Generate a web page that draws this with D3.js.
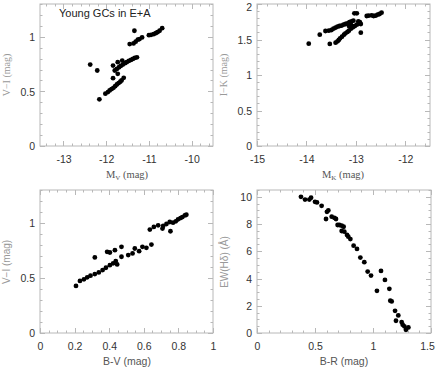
<!DOCTYPE html>
<html><head><meta charset="utf-8">
<script src="https://cdn.jsdelivr.net/npm/d3@7"></script>
<style>body{margin:0;background:#fff}svg{display:block}</style>
</head><body>
<svg id="c" width="436" height="370"></svg>
<script>
// Panel 1: M_V vs V-I
const p1MV = [-12.16,-12.02,-11.96,-11.92,-11.875,-11.83,-11.79,-11.75,-11.71,-11.67,-11.64,-11.59,
  -11.80,-11.75,-11.70,-11.66,-11.61,-11.56,-11.52,-11.47,-11.42,-11.375,-11.33,-11.28,
  -12.375,-12.21,-11.84,-11.84,-11.73,-11.73,-11.625,
  -11.34,-11.45,-11.36,-11.31,-11.26,-11.22,-11.16,-11.0,-10.95,-10.89,-10.84,-10.80,-10.75,-10.69];
const p1VI = [0.427,0.479,0.494,0.509,0.521,0.533,0.548,0.564,0.576,0.588,0.600,0.624,
  0.691,0.706,0.721,0.733,0.745,0.758,0.767,0.779,0.788,0.797,0.806,0.812,
  0.745,0.691,0.736,0.621,0.767,0.661,0.782,
  1.055,0.933,0.939,0.955,0.973,0.979,0.994,1.015,1.018,1.024,1.033,1.042,1.055,1.079];
// Panel 2: M_K vs I-K
const p2MK = [-13.953,-13.730,-13.527,-13.615,-13.547,-13.493,-13.453,-13.412,-13.372,-13.331,-13.291,-13.25,-13.21,-13.17,-13.13,-13.09,-13.05,-13.14,-13.10,
  -13.41,-13.37,-13.345,-13.318,-13.28,-13.24,-13.21,-13.17,-13.14,-13.10,-13.06,-13.02,-12.98,-12.94,-12.90,-12.95,-12.92,
  -13.03,-12.98,-12.90,-12.78,-12.74,-12.68,-12.64,-12.60,-12.56,-12.52,-12.48];
const p2IK = [1.441,1.568,1.437,1.620,1.624,1.634,1.653,1.667,1.681,1.690,1.695,1.709,1.718,1.728,1.746,1.756,1.765,1.690,1.709,
  1.455,1.474,1.493,1.516,1.540,1.568,1.587,1.606,1.624,1.653,1.671,1.690,1.709,1.728,1.718,1.756,1.746,
  1.869,1.869,1.596,1.831,1.836,1.840,1.831,1.836,1.850,1.859,1.878];
// Panel 3: B-V vs V-I
const p3BV = [0.208,0.231,0.254,0.273,0.292,0.317,0.317,0.340,0.362,0.381,0.388,0.404,0.404,0.423,0.438,0.446,0.433,0.471,0.471,0.510,0.535,0.548,0.573,0.592,0.615,0.644,
  0.635,0.658,0.683,0.708,0.712,0.731,0.75,0.754,0.769,0.785,0.798,0.812,0.823,0.837,0.846];
const p3VI = [0.428,0.473,0.488,0.506,0.521,0.536,0.687,0.551,0.572,0.593,0.738,0.732,0.617,0.633,0.654,0.623,0.753,0.783,0.693,0.708,0.723,0.768,0.744,0.783,0.774,0.804,
  0.940,0.964,0.979,0.949,0.973,0.991,1.009,0.925,1.003,1.015,1.033,1.045,1.054,1.069,1.075];
// Panel 4: B-R vs EW(Hdelta)
const p4BR = [0.379,0.414,0.451,0.466,0.50,0.517,0.557,0.603,0.615,0.595,0.644,0.667,0.681,0.695,0.71,0.730,0.747,0.730,0.753,0.776,0.787,0.805,0.833,0.862,0.891,0.925,0.954,0.983,1.034,1.069,1.103,1.141,1.149,1.161,1.190,1.198,1.218,1.247,1.256,1.27,1.284,1.305];
const p4EW = [10.0,9.80,9.80,9.93,9.63,9.59,9.34,8.90,9.00,8.37,8.54,8.46,8.37,7.93,7.93,7.88,7.80,7.49,7.44,7.20,7.07,6.90,6.41,6.17,5.54,5.20,4.51,4.22,3.10,4.56,3.90,3.24,2.37,2.32,1.63,0.90,1.29,0.80,0.61,0.49,0.24,0.41];

const svg = d3.select("#c");
const sans = "Helvetica, Arial, 'Liberation Sans', sans-serif";
const serif = "'Liberation Serif', 'DejaVu Serif', serif";

function panel(o){
  const x = d3.scaleLinear().domain(o.xd).range([o.x0,o.x1]);
  const y = d3.scaleLinear().domain(o.yd).range([o.y1,o.y0]);
  const g = svg.append("g");
  const frame = "#b8b8b8";
  g.append("rect").attr("x",o.x0).attr("y",o.y0).attr("width",o.x1-o.x0).attr("height",o.y1-o.y0)
    .attr("fill","none").attr("stroke",frame).attr("stroke-width",1);
  const eps = 1e-9;
  const xmin = d3.range(Math.ceil(o.xd[0]/o.xm - eps)*o.xm, o.xd[1]+eps, o.xm);
  const ymin = d3.range(Math.ceil(o.yd[0]/o.ym - eps)*o.ym, o.yd[1]+eps, o.ym);
  const isMaj = (v,s)=> Math.abs(v/s - Math.round(v/s)) < 1e-6;
  xmin.forEach(v=>{
    const L = isMaj(v,o.xM)?5:2.5, px = Math.round(x(v))+0.5;
    g.append("line").attr("x1",px).attr("x2",px).attr("y1",o.y1).attr("y2",o.y1-L).attr("stroke",frame);
    g.append("line").attr("x1",px).attr("x2",px).attr("y1",o.y0).attr("y2",o.y0+L).attr("stroke",frame);
  });
  ymin.forEach(v=>{
    const L = isMaj(v,o.yM)?5:2.5, py = Math.round(y(v))+0.5;
    g.append("line").attr("y1",py).attr("y2",py).attr("x1",o.x0).attr("x2",o.x0+L).attr("stroke",frame);
    g.append("line").attr("y1",py).attr("y2",py).attr("x1",o.x1).attr("x2",o.x1-L).attr("stroke",frame);
  });
  const ax = g.append("g").attr("transform",`translate(0,${o.y1})`)
    .call(d3.axisBottom(x).tickValues(o.xt).tickFormat(o.xf||(d=>d)).tickSize(0).tickPadding(10));
  const ay = g.append("g").attr("transform",`translate(${o.x0},0)`)
    .call(d3.axisLeft(y).tickValues(o.yt).tickFormat(o.yf||(d=>d)).tickSize(0).tickPadding(5));
  [ax,ay].forEach(a=>{
    a.select(".domain").remove();
    a.selectAll("text").attr("font-family",sans).attr("font-size",10.5).attr("fill","#333");
  });
  ay.selectAll("text").attr("dy","0.35em");
  // keep edge labels inside the window
  ax.selectAll("text").filter(function(){ return this.getBBox && (x(+d3.select(this.parentNode).datum()) > 425); })
    .attr("dx",-4);
  ay.selectAll("text").filter(function(){ return y(+d3.select(this.parentNode).datum()) < 8; })
    .attr("dy","0.6em");
  g.selectAll("circle.pt").data(o.xs.map((d,i)=>[d,o.ys[i]])).join("circle")
    .attr("class","pt").attr("cx",d=>x(d[0])).attr("cy",d=>y(d[1])).attr("r",2.4).attr("fill","#000");
  return g;
}
const minus = d=> (d<0?"-"+Math.abs(d):d);
panel({x0:40,x1:213,y0:4,y1:146,xd:[-13.55,-9.5],yd:[0,1.3],xM:1,xm:0.2,yM:0.5,ym:0.1,
  xt:[-13,-12,-11,-10],yt:[0,0.5,1],xf:minus,xs:p1MV,ys:p1VI});
panel({x0:257,x1:430,y0:4,y1:146,xd:[-15,-11.5],yd:[0,2],xM:1,xm:0.2,yM:0.5,ym:0.1,
  xt:[-15,-14,-13,-12],yt:[0,0.5,1,1.5,2],xf:minus,xs:p2MK,ys:p2IK});
panel({x0:40,x1:213,y0:190,y1:333,xd:[0,1],yd:[0,1.3],xM:0.2,xm:0.05,yM:0.5,ym:0.1,
  xt:[0,0.2,0.4,0.6,0.8,1],yt:[0,0.5,1],xs:p3BV,ys:p3VI});
panel({x0:257,x1:431,y0:190,y1:333,xd:[0,1.5],yd:[0,10.5],xM:0.5,xm:0.1,yM:2,ym:0.5,
  xt:[0,0.5,1,1.5],yt:[0,2,4,6,8,10],xs:p4BR,ys:p4EW});

function xTitle(cx, cy, sub, ff, plain){
  const t = svg.append("text").attr("x",cx).attr("y",cy).attr("text-anchor","middle")
    .attr("font-family",ff).attr("font-size",10.5).attr("fill","#555");
  if(plain){ t.text(plain); return; }
  t.append("tspan").text("M");
  t.append("tspan").attr("font-size",7).attr("dy",2).text(sub);
  t.append("tspan").attr("dy",-2).text("  (mag)");
}
xTitle(127,178,"V",serif);
xTitle(343,178,"K",serif);
xTitle(127,365,null,sans,"B-V (mag)");
xTitle(344,365,null,sans,"B-R (mag)");
function yTitle(cx, cy, txt, ff){
  svg.append("text").attr("transform",`translate(${cx},${cy}) rotate(-90)`).attr("text-anchor","middle")
    .attr("font-family",ff).attr("font-size",10).attr("fill","#999").text(txt);
}
yTitle(10,75,"V\u2212I (mag)",serif);
yTitle(227,75,"I\u2212K (mag)",serif);
yTitle(10,262,"V\u2212I (mag)",sans);
yTitle(228,262,"EW(H\u03b4) (\u00c5)",sans);
svg.append("text").attr("x",59).attr("y",17).attr("font-family",sans).attr("font-size",11)
  .attr("fill","#222").text("Young GCs in E+A");
</script>
</body></html>
